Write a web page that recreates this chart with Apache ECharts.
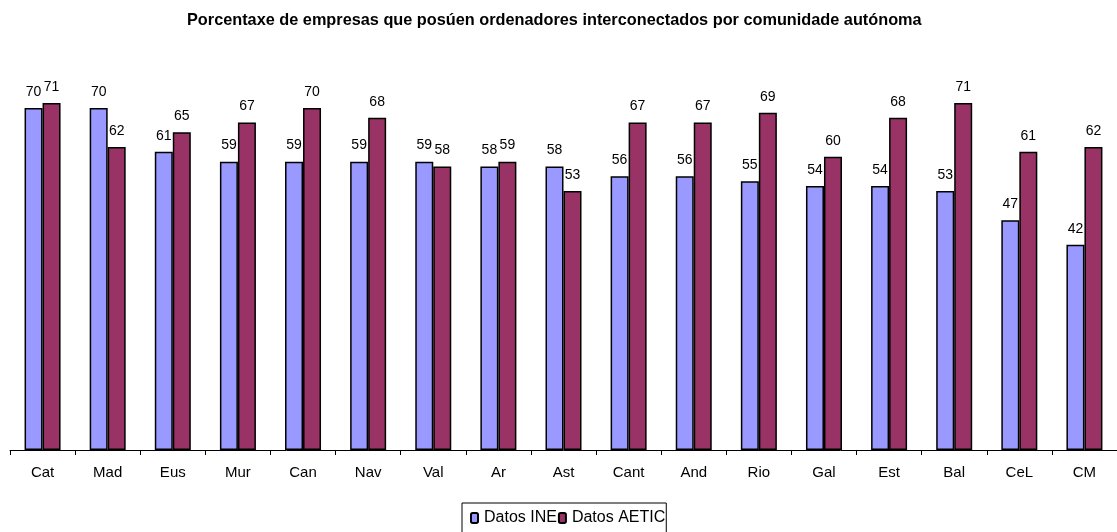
<!DOCTYPE html>
<html><head><meta charset="utf-8">
<script src="https://cdn.jsdelivr.net/npm/echarts@6/dist/echarts.min.js"></script>
<style>html,body{margin:0;padding:0;background:#fff}#c{width:1117px;height:532px}</style>
</head><body><div id="c"></div>
<script>
const categories = ['Cat','Mad','Eus','Mur','Can','Nav','Val','Ar','Ast','Cant','And','Rio','Gal','Est','Bal','CeL','CM'];
const ineValues = [70,70,61,59,59,59,59,58,58,56,56,55,54,54,53,47,42];
const aeticValues = [71,62,65,67,70,68,58,59,53,67,67,69,60,68,71,61,62];
const seriesNames = ['Datos INE','Datos AETIC'];

const chart = echarts.init(document.getElementById('c'));
const lbl = {show:true, position:'top', distance:9, color:'#000', fontFamily:'Liberation Sans, Arial', fontSize:14};
chart.setOption({
  animation:false,
  title:{text:'Porcentaxe de empresas que posúen ordenadores interconectados por comunidade autónoma',
    left:182, top:8, textStyle:{fontFamily:'Liberation Sans, Arial', fontSize:16.3, fontWeight:'bold', color:'#000'}},
  grid:{left:10, right:0, top:59, bottom:82},
  legend:{top:503, left:462, itemWidth:7, itemHeight:10, itemGap:1,
    borderColor:'#000', borderWidth:1, padding:[7,1,12,8],
    textStyle:{fontFamily:'Liberation Sans, Arial', fontSize:16, color:'#000', padding:[0,0,0,1]},
    data:seriesNames},
  xAxis:{type:'category', data:categories,
    axisLine:{lineStyle:{color:'#000', width:1}},
    axisTick:{show:true, length:5, lineStyle:{color:'#000'}},
    axisLabel:{color:'#000', fontFamily:'Liberation Sans, Arial', fontSize:15, margin:15}},
  yAxis:{type:'value', min:0, max:80, show:false, splitLine:{show:false}},
  series:[
    {name:seriesNames[0], type:'bar', data:ineValues, barWidth:18, barGap:'0%',
     itemStyle:{color:'#9999FF', borderColor:'#000', borderWidth:1.5}, label:lbl},
    {name:seriesNames[1], type:'bar', data:aeticValues, barWidth:18, barGap:'0%',
     itemStyle:{color:'#993366', borderColor:'#000', borderWidth:1.5}, label:lbl}
  ]
});
</script></body></html>
